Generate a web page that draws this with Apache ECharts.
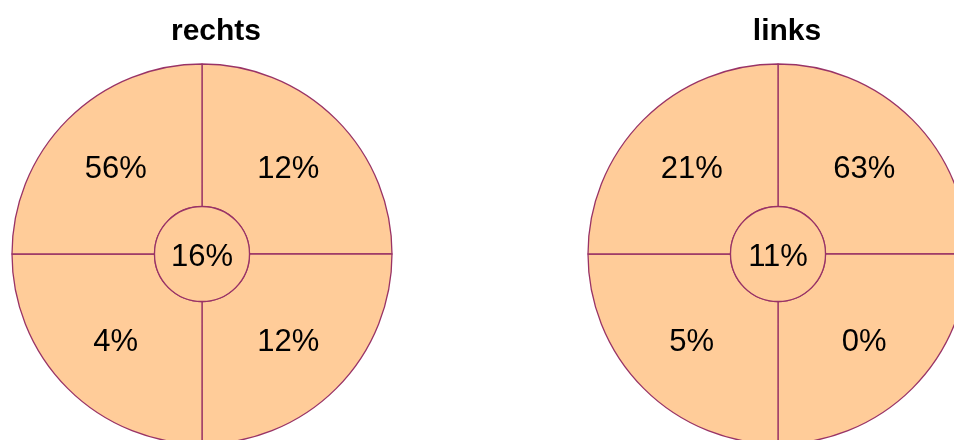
<!DOCTYPE html>
<html>
<head>
<meta charset="utf-8">
<script src="https://cdn.jsdelivr.net/npm/echarts@6/dist/echarts.min.js"></script>
<style>
  html, body { margin: 0; padding: 0; background: #fff; }
  #chart { width: 954px; height: 440px; }
</style>
</head>
<body>
<div id="chart"></div>
<script>
// quadrant order: top-right, bottom-right, bottom-left, top-left (pie clockwise from 12 o'clock)
const panels = ['rechts', 'links']
const rechtsQuadrants = [12, 12, 4, 56]
const rechtsCenter = 16
const linksQuadrants = [63, 0, 5, 21]
const linksCenter = 11

const quadrants = [rechtsQuadrants, linksQuadrants]
const centers = [rechtsCenter, linksCenter]

const fill = '#FFCC99'
const edge = '#993366'
const font = 'Liberation Sans, Arial, sans-serif'
const pos = [[202, 254], [778, 254]]
const titleX = [216, 787]

const chart = echarts.init(document.getElementById('chart'))

const series = []
panels.forEach((p, i) => {
    // outer ring split into four quadrants
    series.push({
        type: 'pie',
        center: pos[i],
        radius: [47.5, 190],
        silent: true,
        animation: false,
        label: { show: false },
        labelLine: { show: false },
        itemStyle: { color: fill, borderColor: edge, borderWidth: 1.3 },
        data: quadrants[i].map(v => ({ name: v + '%', value: 1 }))
    })
    // transparent ring only used to place the quadrant labels
    series.push({
        type: 'pie',
        center: pos[i],
        radius: [48, 190],
        silent: true,
        animation: false,
        z: 3,
        label: {
            show: true,
            position: 'inner',
            formatter: '{b}',
            color: '#000',
            fontSize: 31,
            fontFamily: font,
            offset: [0, 2]
        },
        labelLine: { show: false },
        itemStyle: { color: 'rgba(0,0,0,0)', borderWidth: 0 },
        data: quadrants[i].map(v => ({ name: v + '%', value: 1 }))
    })
    // centre circle
    series.push({
        type: 'pie',
        center: pos[i],
        radius: [0, 47.5],
        silent: true,
        animation: false,
        z: 4,
        label: {
            show: true,
            position: 'center',
            formatter: '{b}',
            color: '#000',
            fontSize: 31,
            fontFamily: font,
            offset: [0, 3]
        },
        labelLine: { show: false },
        itemStyle: { color: fill, borderColor: edge, borderWidth: 1.3 },
        data: [{ name: centers[i] + '%', value: 1 }]
    })
})

chart.setOption({
    backgroundColor: '#fff',
    title: panels.map((p, i) => ({
        text: p,
        left: titleX[i] - 5,
        top: 12,
        textAlign: 'center',
        textStyle: { fontSize: 30, fontWeight: 'bold', color: '#000', fontFamily: font }
    })),
    series: series
})
</script>
</body>
</html>
